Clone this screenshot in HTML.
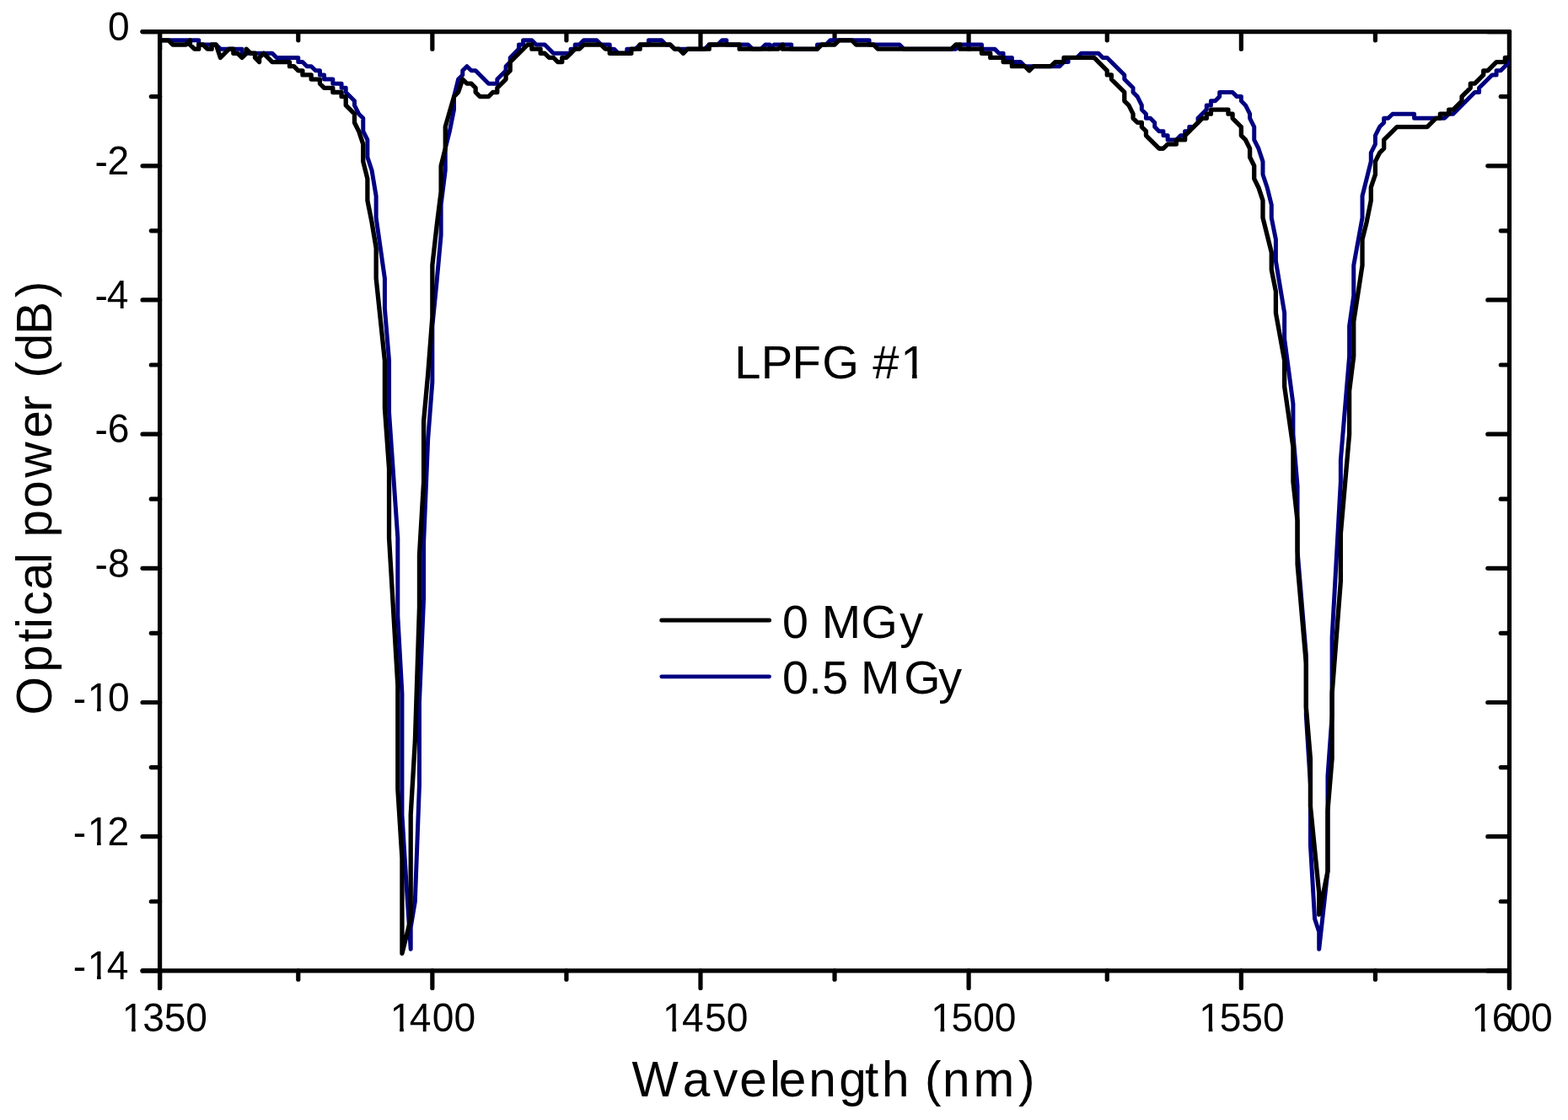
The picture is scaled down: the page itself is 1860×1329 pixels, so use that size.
<!DOCTYPE html>
<html lang="en">
<head>
<meta charset="utf-8">
<title>LPFG #1 transmission spectrum</title>
<style>
html,body{margin:0;padding:0;background:#fff;}
body{width:1860px;height:1329px;overflow:hidden;}
svg{display:block;}
text{font-family:"Liberation Sans", sans-serif;fill:#000;white-space:pre;}
</style>
</head>
<body>
<svg width="1860" height="1329" viewBox="0 0 1860 1329">
<rect width="1860" height="1329" fill="#fff"/>
<g fill="none" stroke="#000" stroke-width="5.2" stroke-linecap="round">
<line x1="169.08" y1="37.6" x2="1790.47" y2="37.6"/>
<line x1="169.08" y1="1151.89" x2="1790.47" y2="1151.89"/>
<line x1="189.6" y1="37.6" x2="189.6" y2="1172.43"/>
<line x1="1790.47" y1="37.6" x2="1790.47" y2="1172.43"/>
<line x1="189.6" y1="1151.89" x2="189.6" y2="1172.43"/>
<line x1="189.6" y1="37.6" x2="189.6" y2="58.14"/>
<line x1="353.79" y1="1151.89" x2="353.79" y2="1162.16"/>
<line x1="353.79" y1="37.6" x2="353.79" y2="47.87"/>
<line x1="512.85" y1="1151.89" x2="512.85" y2="1172.43"/>
<line x1="512.85" y1="37.6" x2="512.85" y2="58.14"/>
<line x1="671.91" y1="1151.89" x2="671.91" y2="1162.16"/>
<line x1="671.91" y1="37.6" x2="671.91" y2="47.87"/>
<line x1="830.98" y1="1151.89" x2="830.98" y2="1172.43"/>
<line x1="830.98" y1="37.6" x2="830.98" y2="58.14"/>
<line x1="990.04" y1="1151.89" x2="990.04" y2="1162.16"/>
<line x1="990.04" y1="37.6" x2="990.04" y2="47.87"/>
<line x1="1149.1" y1="1151.89" x2="1149.1" y2="1172.43"/>
<line x1="1149.1" y1="37.6" x2="1149.1" y2="58.14"/>
<line x1="1313.29" y1="1151.89" x2="1313.29" y2="1162.16"/>
<line x1="1313.29" y1="37.6" x2="1313.29" y2="47.87"/>
<line x1="1472.35" y1="1151.89" x2="1472.35" y2="1172.43"/>
<line x1="1472.35" y1="37.6" x2="1472.35" y2="58.14"/>
<line x1="1631.41" y1="1151.89" x2="1631.41" y2="1162.16"/>
<line x1="1631.41" y1="37.6" x2="1631.41" y2="47.87"/>
<line x1="1790.47" y1="1151.89" x2="1790.47" y2="1172.43"/>
<line x1="1790.47" y1="37.6" x2="1790.47" y2="58.14"/>
<line x1="189.6" y1="37.6" x2="169.08" y2="37.6"/>
<line x1="1790.47" y1="37.6" x2="1764.82" y2="37.6"/>
<line x1="189.6" y1="114.62" x2="179.34" y2="114.62"/>
<line x1="1790.47" y1="114.62" x2="1780.21" y2="114.62"/>
<line x1="189.6" y1="196.78" x2="169.08" y2="196.78"/>
<line x1="1790.47" y1="196.78" x2="1764.82" y2="196.78"/>
<line x1="189.6" y1="273.81" x2="179.34" y2="273.81"/>
<line x1="1790.47" y1="273.81" x2="1780.21" y2="273.81"/>
<line x1="189.6" y1="355.97" x2="169.08" y2="355.97"/>
<line x1="1790.47" y1="355.97" x2="1764.82" y2="355.97"/>
<line x1="189.6" y1="433" x2="179.34" y2="433"/>
<line x1="1790.47" y1="433" x2="1780.21" y2="433"/>
<line x1="189.6" y1="515.15" x2="169.08" y2="515.15"/>
<line x1="1790.47" y1="515.15" x2="1764.82" y2="515.15"/>
<line x1="189.6" y1="592.18" x2="179.34" y2="592.18"/>
<line x1="1790.47" y1="592.18" x2="1780.21" y2="592.18"/>
<line x1="189.6" y1="674.34" x2="169.08" y2="674.34"/>
<line x1="1790.47" y1="674.34" x2="1764.82" y2="674.34"/>
<line x1="189.6" y1="751.37" x2="179.34" y2="751.37"/>
<line x1="1790.47" y1="751.37" x2="1780.21" y2="751.37"/>
<line x1="189.6" y1="833.52" x2="169.08" y2="833.52"/>
<line x1="1790.47" y1="833.52" x2="1764.82" y2="833.52"/>
<line x1="189.6" y1="910.55" x2="179.34" y2="910.55"/>
<line x1="1790.47" y1="910.55" x2="1780.21" y2="910.55"/>
<line x1="189.6" y1="992.71" x2="169.08" y2="992.71"/>
<line x1="1790.47" y1="992.71" x2="1764.82" y2="992.71"/>
<line x1="189.6" y1="1069.73" x2="179.34" y2="1069.73"/>
<line x1="1790.47" y1="1069.73" x2="1780.21" y2="1069.73"/>
<line x1="189.6" y1="1151.89" x2="169.08" y2="1151.89"/>
<line x1="1790.47" y1="1151.89" x2="1764.82" y2="1151.89"/>
</g>
<clipPath id="plotclip"><rect x="187" y="37.6" width="1603.47" height="1114.29"/></clipPath>
<g fill="none" stroke-linejoin="round" stroke-linecap="round" clip-path="url(#plotclip)">
<polyline stroke="#000080" stroke-width="5" points="189.6,47.87 235.78,47.87 235.78,53.01 256.3,53.01 261.43,58.14 287.09,58.14 287.09,63.27 323.01,63.27 328.14,68.41 353.79,68.41 353.79,73.55 358.92,73.55 364.05,78.68 369.19,78.68 374.32,83.81 379.45,83.81 379.45,88.95 384.58,88.95 384.58,94.09 394.84,94.09 394.84,99.22 405.1,99.22 405.1,104.35 410.23,104.35 410.23,109.49 420.5,119.76 420.5,124.9 425.63,135.16 430.76,140.3 430.76,155.7 435.89,165.97 435.89,186.51 441.02,201.92 446.15,232.73 446.15,258.4 456.41,330.3 456.41,366.24 461.54,427.86 461.54,489.48 471.81,638.39 471.81,730.83 476.94,823.25 476.94,967.03 482.07,1049.19 487.2,1126.22 487.2,1100.54 492.33,1069.73 497.46,931.09 497.46,833.52 502.59,710.28 502.59,643.53 507.72,520.29 512.85,453.54 512.85,386.78 517.98,335.43 523.12,278.94 523.12,243 528.25,201.92 528.25,176.24 533.38,155.7 538.51,130.03 538.51,114.62 543.64,94.09 548.77,88.95 548.77,83.81 553.9,78.68 559.03,83.81 564.16,83.81 579.56,99.22 589.82,99.22 589.82,94.09 600.08,83.81 600.08,78.68 605.21,73.55 605.21,68.41 615.47,58.14 615.47,53.01 620.6,53.01 620.6,47.87 630.87,47.87 636,53.01 646.26,53.01 656.52,63.27 671.91,63.27 677.05,63.27 677.05,58.14 682.18,58.14 682.18,53.01 687.31,53.01 692.44,47.87 707.83,47.87 712.96,53.01 723.22,53.01 723.22,58.14 728.36,58.14 733.49,63.27 743.75,63.27 743.75,58.14 754.01,58.14 759.14,53.01 769.4,53.01 769.4,47.87 784.8,47.87 789.93,53.01 795.06,53.01 800.19,58.14 836.11,58.14 841.24,53.01 851.5,53.01 856.63,47.87 861.76,47.87 861.76,53.01 887.42,53.01 892.55,58.14 902.81,58.14 907.94,53.01 913.07,53.01 913.07,58.14 918.2,53.01 938.73,53.01 938.73,58.14 969.51,58.14 969.51,53.01 979.77,53.01 984.91,47.87 1031.08,47.87 1031.08,53.01 1067,53.01 1072.13,58.14 1133.7,58.14 1138.84,53.01 1164.49,53.01 1164.49,58.14 1179.88,58.14 1185.01,63.27 1190.14,63.27 1190.14,68.41 1200.41,68.41 1200.41,73.55 1210.67,73.55 1215.8,78.68 1256.85,78.68 1261.98,73.55 1267.11,73.55 1267.11,68.41 1277.37,68.41 1282.5,63.27 1303.03,63.27 1308.16,68.41 1313.29,68.41 1333.81,88.95 1333.81,94.09 1344.08,104.35 1344.08,109.49 1349.21,114.62 1354.34,124.9 1354.34,130.03 1359.47,135.16 1359.47,140.3 1364.6,140.3 1369.73,145.44 1369.73,150.57 1374.86,155.7 1379.99,155.7 1379.99,160.84 1385.12,160.84 1385.12,165.97 1395.38,165.97 1400.52,160.84 1405.65,160.84 1405.65,155.7 1410.78,155.7 1410.78,150.57 1415.91,150.57 1421.04,145.44 1421.04,140.3 1431.3,130.03 1431.3,124.9 1436.43,124.9 1436.43,119.76 1441.56,119.76 1446.69,114.62 1446.69,109.49 1462.09,109.49 1467.22,114.62 1472.35,114.62 1472.35,119.76 1477.48,124.9 1482.61,135.16 1482.61,140.3 1487.74,150.57 1487.74,165.97 1492.87,176.24 1498,191.65 1498,207.05 1503.14,222.46 1508.27,243 1508.27,258.4 1513.4,284.08 1513.4,309.75 1523.66,371.38 1523.66,402.19 1533.92,479.21 1533.92,515.15 1539.05,576.77 1539.05,653.8 1549.32,777.04 1549.32,848.93 1554.45,931.09 1554.45,1002.98 1559.58,1090.27 1564.71,1105.68 1564.71,1126.22 1574.97,1033.79 1574.97,920.82 1580.1,848.93 1580.1,756.5 1590.36,571.64 1590.36,545.96 1600.62,422.73 1600.62,386.78 1605.76,350.84 1605.76,314.89 1616.02,258.4 1616.02,232.73 1621.15,212.19 1626.28,191.65 1626.28,181.38 1631.41,171.11 1631.41,160.84 1636.54,150.57 1641.67,145.44 1641.67,140.3 1646.8,140.3 1651.93,135.16 1677.59,135.16 1677.59,140.3 1713.51,140.3 1718.64,135.16 1723.77,135.16 1749.42,109.49 1754.56,109.49 1754.56,104.35 1769.95,88.95 1775.08,88.95 1775.08,83.81 1780.21,83.81 1790.47,73.55"/>
<polyline stroke="#000" stroke-width="5.3" points="189.6,47.87 199.86,47.87 204.99,53.01 220.39,53.01 225.52,47.87 225.52,53.01 230.65,58.14 235.78,58.14 235.78,53.01 240.91,53.01 246.04,58.14 251.17,58.14 251.17,53.01 256.3,53.01 261.43,68.41 271.7,58.14 276.83,58.14 276.83,63.27 281.96,63.27 287.09,68.41 292.22,63.27 292.22,58.14 297.35,63.27 302.48,63.27 302.48,68.41 307.61,73.55 307.61,68.41 312.74,63.27 323.01,73.55 343.53,73.55 343.53,78.68 348.66,78.68 353.79,83.81 358.92,83.81 358.92,88.95 369.19,88.95 369.19,94.09 379.45,94.09 379.45,99.22 384.58,104.35 394.84,104.35 394.84,109.49 405.1,109.49 405.1,114.62 410.23,114.62 410.23,124.9 420.5,135.16 420.5,145.44 425.63,155.7 430.76,171.11 430.76,191.65 435.89,212.19 435.89,237.86 441.02,263.54 446.15,294.35 446.15,330.3 456.41,427.86 456.41,484.35 461.54,556.24 461.54,638.39 471.81,812.99 471.81,936.23 476.94,1018.38 476.94,1131.35 487.2,1090.27 487.2,967.03 492.33,879.74 497.46,720.55 497.46,658.93 502.59,571.64 502.59,499.75 507.72,443.26 512.85,376.51 512.85,314.89 517.98,268.68 523.12,227.59 523.12,196.78 528.25,176.24 528.25,150.57 538.51,114.62 543.64,109.49 548.77,94.09 553.9,99.22 559.03,99.22 564.16,104.35 564.16,109.49 569.29,114.62 579.56,114.62 584.69,109.49 589.82,109.49 589.82,104.35 600.08,94.09 600.08,88.95 605.21,83.81 605.21,73.55 625.74,53.01 630.87,53.01 630.87,58.14 641.13,58.14 641.13,63.27 646.26,63.27 651.39,68.41 656.52,68.41 661.65,73.55 666.78,73.55 666.78,68.41 671.91,68.41 682.18,58.14 687.31,58.14 692.44,53.01 712.96,53.01 718.09,58.14 723.22,58.14 723.22,63.27 748.88,63.27 748.88,58.14 759.14,58.14 759.14,53.01 795.06,53.01 800.19,58.14 805.32,58.14 810.45,63.27 815.58,58.14 841.24,58.14 841.24,53.01 877.15,53.01 877.15,58.14 923.33,58.14 928.46,53.01 928.46,58.14 969.51,58.14 974.64,53.01 990.04,53.01 995.17,47.87 1010.56,47.87 1015.69,53.01 1036.21,53.01 1041.35,58.14 1128.57,58.14 1133.7,53.01 1138.84,53.01 1138.84,58.14 1164.49,58.14 1164.49,63.27 1174.75,63.27 1174.75,68.41 1190.14,68.41 1190.14,73.55 1200.41,73.55 1200.41,78.68 1215.8,78.68 1220.93,83.81 1226.06,78.68 1246.59,78.68 1251.72,73.55 1261.98,73.55 1261.98,68.41 1297.9,68.41 1313.29,83.81 1313.29,88.95 1318.42,88.95 1318.42,94.09 1333.81,109.49 1333.81,119.76 1338.94,124.9 1344.08,135.16 1344.08,140.3 1349.21,145.44 1354.34,145.44 1354.34,150.57 1359.47,155.7 1359.47,160.84 1374.86,176.24 1379.99,176.24 1385.12,171.11 1395.38,171.11 1395.38,165.97 1405.65,165.97 1405.65,160.84 1426.17,140.3 1431.3,140.3 1431.3,135.16 1436.43,135.16 1436.43,130.03 1456.96,130.03 1456.96,135.16 1462.09,135.16 1462.09,140.3 1472.35,150.57 1472.35,160.84 1477.48,165.97 1482.61,176.24 1482.61,186.51 1487.74,196.78 1487.74,212.19 1492.87,222.46 1498,237.86 1498,258.4 1508.27,299.49 1508.27,320.03 1513.4,345.7 1513.4,371.38 1523.66,427.86 1523.66,458.67 1533.92,530.56 1533.92,571.64 1539.05,617.86 1539.05,669.21 1549.32,787.31 1549.32,838.66 1554.45,900.28 1554.45,956.76 1564.71,1059.46 1564.71,1085.14 1574.97,1033.79 1574.97,961.9 1580.1,900.28 1580.1,823.25 1590.36,689.75 1590.36,633.26 1600.62,515.15 1600.62,463.81 1605.76,422.73 1605.76,381.64 1616.02,314.89 1616.02,284.08 1621.15,263.54 1626.28,237.86 1626.28,222.46 1631.41,207.05 1631.41,191.65 1636.54,181.38 1641.67,176.24 1641.67,165.97 1646.8,160.84 1657.07,150.57 1692.98,150.57 1703.24,140.3 1708.38,140.3 1708.38,135.16 1718.64,135.16 1718.64,130.03 1723.77,130.03 1734.03,119.76 1734.03,114.62 1744.29,104.35 1744.29,99.22 1749.42,99.22 1759.69,88.95 1759.69,83.81 1764.82,83.81 1775.08,73.55 1785.34,73.55 1785.34,68.41 1790.47,68.41"/>
</g>
<text transform="translate(0 1224) scale(1 1.04)" x="144.73 169.17 194.68 220.34" y="0" font-size="46.18">1350</text>
<text transform="translate(0 1224) scale(1 1.04)" x="462.85 485.85 512.81 538.47" y="0" font-size="46.18">1400</text>
<text transform="translate(0 1224) scale(1 1.04)" x="786.1 809.11 836.06 861.72" y="0" font-size="46.18">1450</text>
<text transform="translate(0 1224) scale(1 1.04)" x="1104.22 1128.53 1154.19 1179.84" y="0" font-size="46.18">1500</text>
<text transform="translate(0 1224) scale(1 1.04)" x="1422.35 1446.65 1472.3 1497.96" y="0" font-size="46.18">1550</text>
<text transform="translate(0 1224) scale(1 1.04)" x="1745.6 1769.7 1790.43 1816.09" y="0" font-size="46.18">1600</text>
<text transform="translate(0 47.9) scale(1 1.04)" x="127.99" y="0" font-size="46.18">0</text>
<text transform="translate(0 207.09) scale(1 1.04)" x="112.5 127.59" y="0" dy="0.82 -0.82" font-size="46.18">-2</text>
<text transform="translate(0 366.27) scale(1 1.04)" x="112.5 126.68" y="0" dy="0.82 -0.82" font-size="46.18">-4</text>
<text transform="translate(0 525.45) scale(1 1.04)" x="112.5 127.78" y="0" dy="0.82 -0.82" font-size="46.18">-6</text>
<text transform="translate(0 684.64) scale(1 1.04)" x="112.5 128.04" y="0" dy="0.82 -0.82" font-size="46.18">-8</text>
<text transform="translate(0 843.82) scale(1 1.04)" x="86.84 103.68 127.99" y="0" dy="0.82 -0.82" font-size="46.18">-10</text>
<text transform="translate(0 1003.01) scale(1 1.04)" x="86.84 103.68 127.59" y="0" dy="0.82 -0.82" font-size="46.18">-12</text>
<text transform="translate(0 1162.19) scale(1 1.04)" x="86.84 103.68 126.68" y="0" dy="0.82 -0.82" font-size="46.18">-14</text>
<text transform="translate(0 1301) scale(1 1)" x="749.56 809.76 846.07 877.34 913.11 923.69 959.34 995.14 1025.94 1046.05 1085 1097.07 1118.04 1154.62 1208" y="0" font-size="58.51">Wavelength (nm)</text>
<text transform="translate(60.85 0) rotate(-90) scale(1 1)" x="-848.54 -797.63 -762.16 -745.94 -730.5 -700.14 -669.01 -650 -637.48 -602.77 -566.76 -519.76 -488.7 -460 -448.53 -428.36 -396.92 -353" y="0" font-size="58.51">Optical power (dB)</text>
<text transform="translate(0 448.7) scale(1 1)" x="871.24 902.85 939.49 975.19 1022 1035.35 1068.26" y="0" font-size="56.16">LPFG #1</text>
<g fill="none" stroke-linecap="round">
<line stroke="#000" stroke-width="5" x1="784.8" y1="736" x2="912.57" y2="736"/>
<line stroke="#000080" stroke-width="4.8" x1="784.8" y1="802.8" x2="912.57" y2="802.8"/>
</g>
<text transform="translate(0 756.6) scale(1 1)" x="927.91 962 974.73 1021.6 1067.18" y="0" font-size="55.62">0 MGy</text>
<text transform="translate(0 822.65) scale(1 1)" x="927.91 959.27 975.19 1010 1020.88 1072.2 1113.33" y="0" font-size="55.62">0.5 MGy</text>
<g fill="#fff"><rect x="147.44" y="1219.61" width="8.6" height="5.19"/><rect x="160.72" y="1219.61" width="8.23" height="5.19"/><rect x="465.57" y="1219.61" width="8.6" height="5.19"/><rect x="478.84" y="1219.61" width="8.23" height="5.19"/><rect x="788.82" y="1219.61" width="8.6" height="5.19"/><rect x="802.1" y="1219.61" width="8.23" height="5.19"/><rect x="1106.94" y="1219.61" width="8.6" height="5.19"/><rect x="1120.22" y="1219.61" width="8.23" height="5.19"/><rect x="1425.06" y="1219.61" width="8.6" height="5.19"/><rect x="1438.34" y="1219.61" width="8.23" height="5.19"/><rect x="1748.32" y="1219.61" width="8.6" height="5.19"/><rect x="1761.59" y="1219.61" width="8.23" height="5.19"/><rect x="106.4" y="839.44" width="8.6" height="5.19"/><rect x="119.67" y="839.44" width="8.23" height="5.19"/><rect x="106.4" y="998.62" width="8.6" height="5.19"/><rect x="119.67" y="998.62" width="8.23" height="5.19"/><rect x="106.4" y="1157.81" width="8.6" height="5.19"/><rect x="119.67" y="1157.81" width="8.23" height="5.19"/><rect x="1071.74" y="443.7" width="10.34" height="5.8"/><rect x="1087.65" y="443.7" width="9.91" height="5.8"/></g>
</svg>
</body>
</html>
